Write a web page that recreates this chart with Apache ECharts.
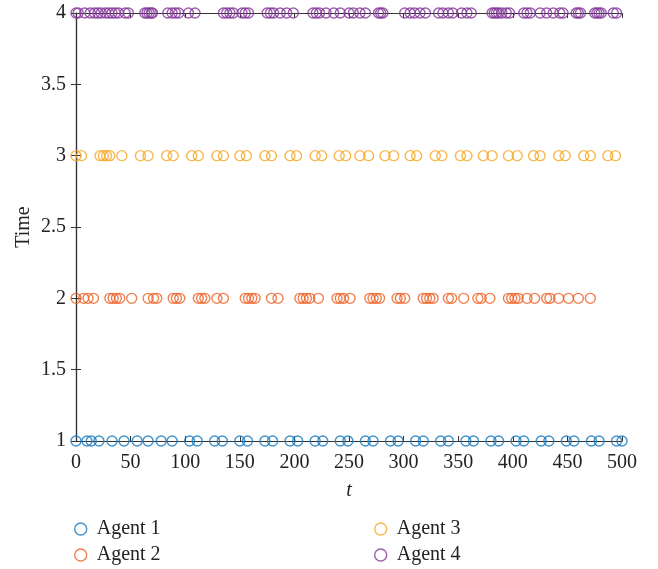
<!DOCTYPE html>
<html><head><meta charset="utf-8">
<script src="https://cdn.jsdelivr.net/npm/echarts@6/dist/echarts.min.js"></script>
<style>html,body{margin:0;padding:0;background:#fff}#c{width:658px;height:569px}</style>
</head><body><div id="c"></div>
<script>
const seriesNames = ['Agent 1', 'Agent 2', 'Agent 3', 'Agent 4'];
const seriesLevels = [1, 2, 3, 4];
const agent1 = [0, 10, 14, 21, 33, 44, 56, 66, 78, 88, 104, 111, 127, 134, 150, 157, 173, 180, 196, 203, 219, 226, 242, 249, 265, 272, 288, 295, 311, 318, 334, 341, 357, 364, 380, 387, 403, 410, 426, 433, 449, 456, 472, 479, 495, 500];
const agent2 = [0, 7, 11, 16, 31, 34, 37, 40, 51, 66, 71, 74, 89, 92, 95, 112, 115, 118, 129, 135, 155, 158, 161, 164, 179, 185, 205, 208, 211, 214, 222, 239, 242, 245, 251, 269, 272, 275, 278, 294, 297, 301, 318, 321, 324, 327, 341, 344, 355, 368, 371, 379, 396, 399, 402, 405, 413, 420, 431, 434, 442, 451, 460, 471];
const agent3 = [0, 5, 22, 25, 28, 31, 42, 59, 66, 83, 89, 106, 112, 129, 135, 150, 156, 173, 179, 196, 202, 219, 225, 241, 247, 260, 268, 283, 291, 306, 312, 329, 335, 352, 358, 373, 381, 396, 404, 419, 425, 442, 448, 465, 471, 487, 494];
const agent4 = [0, 2, 8, 13, 17, 20, 23, 27, 30, 33, 36, 39, 45, 48, 63, 65, 67, 69, 70, 84, 88, 91, 94, 103, 109, 135, 138, 141, 144, 152, 155, 158, 175, 178, 181, 187, 193, 199, 217, 220, 223, 229, 236, 242, 250, 254, 260, 265, 277, 279, 281, 301, 306, 310, 315, 320, 332, 336, 341, 345, 353, 358, 362, 381, 383, 385, 387, 390, 394, 397, 410, 413, 416, 425, 431, 437, 443, 446, 458, 460, 462, 475, 477, 479, 481, 492, 495];
const xTicks = [0, 50, 100, 150, 200, 250, 300, 350, 400, 450, 500];
const yTicks = [1, 1.5, 2, 2.5, 3, 3.5, 4];

const allT = [agent1, agent2, agent3, agent4];
const colors = ['#1478BE', '#EE6226', '#F5A623', '#85379A'];
const font = '"Liberation Serif", "DejaVu Serif", serif';
const axisCol = '#333';
const txtCol = '#222';

const chart = echarts.init(document.getElementById('c'), null, {renderer: 'canvas'});
const series = seriesNames.map((n, i) => ({
  name: n, type: 'scatter', clip: false,
  symbol: 'circle', symbolSize: 10,
  data: allT[i].map(t => [t, seriesLevels[i]]),
  itemStyle: {color: 'rgba(0,0,0,0)', borderColor: colors[i], borderWidth: 1.4},
  emphasis: {disabled: true}
}));
const legendPos = [[69, 514], [69, 540], [369, 514], [369, 540]];
const legends = seriesNames.map((n, i) => ({
  data: [{name: n, itemStyle: {color: 'rgba(0,0,0,0)', borderColor: colors[i], borderWidth: 1.4}}],
  left: legendPos[i][0], top: legendPos[i][1], itemWidth: 12, itemHeight: 12, itemGap: 5,
  icon: 'circle', selectedMode: false,
  textStyle: {fontFamily: font, fontSize: 20, color: txtCol, padding: [0, 0, 0, 5]}
}));
const tickStyle = () => ({show: true, inside: true, length: 5, lineStyle: {color: axisCol}});
chart.setOption({
  animation: false,
  backgroundColor: '#fff',
  grid: {left: 76, right: 36, top: 13, bottom: 128, containLabel: false},
  legend: legends,
  xAxis: [
    {type: 'value', min: 0, max: 500, interval: 50, position: 'bottom',
     name: 't', nameLocation: 'middle', nameGap: 40,
     nameTextStyle: {fontFamily: font, fontSize: 20, fontStyle: 'italic', color: txtCol},
     axisLine: {show: true, lineStyle: {color: axisCol, width: 1.2}},
     axisTick: tickStyle(),
     axisLabel: {fontFamily: font, fontSize: 20, color: txtCol, margin: 12, formatter: v => xTicks.includes(v) ? String(v) : ''},
     splitLine: {show: false}},
    {type: 'value', min: 0, max: 500, interval: 50, position: 'top',
     axisLine: {show: true, lineStyle: {color: axisCol, width: 1.2}},
     axisTick: tickStyle(),
     axisLabel: {show: false}, splitLine: {show: false}}
  ],
  yAxis: [
    {type: 'value', min: 1, max: 4, interval: 0.5, position: 'left',
     name: 'Time', nameLocation: 'middle', nameGap: 42, nameRotate: 90, nameMoveOverlap: false,
     nameTextStyle: {fontFamily: font, fontSize: 20, color: txtCol},
     axisLine: {show: true, lineStyle: {color: axisCol, width: 1.2}},
     axisTick: tickStyle(),
     axisLabel: {fontFamily: font, fontSize: 20, color: txtCol, margin: 10, formatter: v => yTicks.includes(v) ? String(v) : ''},
     splitLine: {show: false}},
    {type: 'value', min: 1, max: 4, interval: 0.5, position: 'right',
     axisLine: {show: true, lineStyle: {color: axisCol, width: 1.2}},
     axisTick: tickStyle(),
     axisLabel: {show: false}, splitLine: {show: false}}
  ],
  series: series
});
</script></body></html>
